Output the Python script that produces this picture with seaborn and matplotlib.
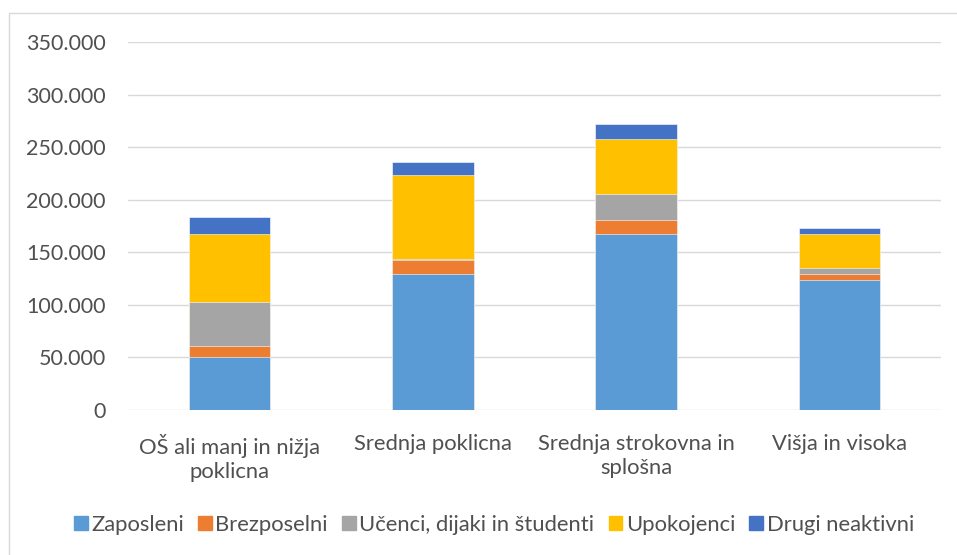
import matplotlib
matplotlib.use("Agg")
import matplotlib.pyplot as plt
import matplotlib.patches as mpatches
from matplotlib.ticker import FuncFormatter, MultipleLocator
import seaborn as sns
import pandas as pd
import numpy as np

# Data
categories = ["OŠ ali manj in nižja\npoklicna", "Srednja poklicna",
              "Srednja strokovna in\nsplošna", "Višja in visoka"]
series_names = ["Zaposleni", "Brezposelni", "Učenci, dijaki in študenti",
                "Upokojenci", "Drugi neaktivni"]
zaposleni = [50700, 129200, 167800, 123700]
brezposelni = [10500, 13600, 13300, 6000]
ucenci = [41300, 800, 24200, 5700]
upokojenci = [65000, 80200, 52600, 32400]
drugi = [15900, 12700, 14000, 5100]

colors = ["#5B9BD5", "#ED7D31", "#A5A5A5", "#FFC000", "#4472C4"]
text_color = "#505050"
grid_color = "#D9D9D9"

sns.set_theme(style="white")
plt.rcParams["font.family"] = ["Lato", "DejaVu Sans"]

values = np.array([zaposleni, brezposelni, ucenci, upokojenci, drugi])
cumulative = values.cumsum(axis=0)

fig = plt.figure(figsize=(9.57, 5.55), dpi=100)
ax = fig.add_axes([128 / 957, 1 - 410 / 555, (941 - 128) / 957, (410 - 42.3) / 555])

# stacked bars: draw the running totals from the top series down
for i in range(len(series_names) - 1, -1, -1):
    df = pd.DataFrame({"category": categories, "value": cumulative[i]})
    sns.barplot(data=df, x="category", y="value", ax=ax, color=colors[i],
                width=0.4, saturation=1, edgecolor="white", linewidth=0.4,
                zorder=3)

ax.set_xlim(-0.5, 3.5)
ax.set_ylim(0, 350000)
ax.yaxis.set_major_locator(MultipleLocator(50000))
ax.yaxis.set_major_formatter(FuncFormatter(lambda v, p: f"{v:,.0f}".replace(",", ".")))
ax.grid(axis="y", color=grid_color, linewidth=1.0, zorder=0)
ax.set_axisbelow(True)
for s in ax.spines.values():
    s.set_visible(False)
ax.set_xlabel("")
ax.set_ylabel("")
ax.tick_params(axis="y", length=0, pad=16, labelsize=15.5, labelcolor=text_color)
ax.tick_params(axis="x", length=0, pad=17, labelsize=15.8, labelcolor=text_color)
for lbl in ax.get_xticklabels():
    lbl.set_linespacing(1.25)

# chart area border
fig.patches.append(mpatches.Rectangle((9 / 957, -0.05), 1.0, 1 - 13.3 / 555 + 0.05,
                                      transform=fig.transFigure, fill=False,
                                      edgecolor=grid_color, linewidth=1.0))

handles = [mpatches.Patch(color=c, label=n) for c, n in zip(colors, series_names)]
leg = fig.legend(handles=handles, loc="center", bbox_to_anchor=(494 / 957, 1 - 525 / 555),
                 ncol=5, frameon=False, fontsize=15.8, handlelength=0.63, handleheight=0.63,
                 handletextpad=0.15, columnspacing=0.65, borderaxespad=0)
for t in leg.get_texts():
    t.set_color(text_color)

fig.savefig("out.png", dpi=100)
